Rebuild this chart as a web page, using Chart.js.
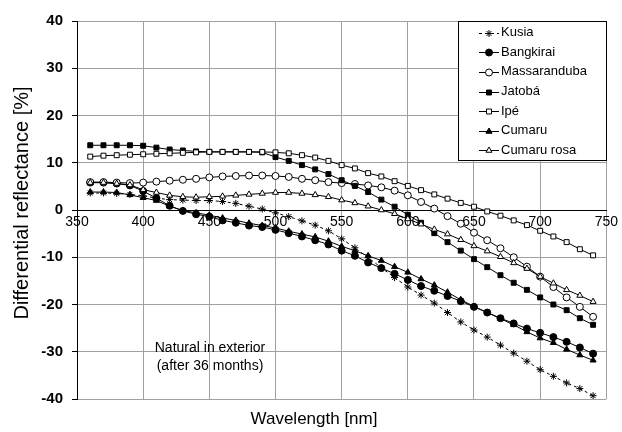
<!DOCTYPE html>
<html>
<head>
<meta charset="utf-8">
<script src="https://cdn.jsdelivr.net/npm/chart.js@4/dist/chart.umd.min.js"></script>
<style>
  body { margin: 0; background: #fff; }
  #wrap { width: 622px; height: 432px; }
</style>
</head>
<body>
<div id="wrap"><canvas id="myChart" width="622" height="432"></canvas></div>
<script>
// Data block
const wavelengths = [360, 370, 380, 390, 400, 410, 420, 430, 440, 450, 460, 470, 480, 490, 500,
  510, 520, 530, 540, 550, 560, 570, 580, 590, 600, 610, 620, 630, 640, 650,
  660, 670, 680, 690, 700, 710, 720, 730, 740];

const kusia = [3.6, 3.6, 3.5, 3.3, 3.0, 2.5, 2.2, 2.1, 2.0, 2.0, 1.8, 1.4, 0.8, 0.2, -0.6,
  -1.4, -2.3, -3.2, -4.4, -6.1, -8.0, -10.1, -12.2, -14.3, -16.3, -18.0, -19.7, -21.7, -23.7, -25.4,
  -26.9, -28.6, -30.3, -32.0, -33.8, -35.2, -36.6, -37.8, -39.3];

const bangkirai = [5.8, 5.8, 5.6, 5.2, 4.0, 2.5, 0.9, -0.2, -0.9, -1.4, -2.2, -2.7, -3.3, -3.6, -4.2,
  -4.9, -5.6, -6.4, -7.3, -8.6, -9.7, -11.1, -12.3, -13.5, -14.8, -16.1, -17.1, -18.2, -19.3, -20.5,
  -21.7, -22.9, -24.0, -25.1, -26.0, -26.9, -27.9, -29.1, -30.4];

const massaranduba = [5.9, 5.9, 5.8, 5.7, 5.8, 6.0, 6.2, 6.4, 6.6, 6.9, 7.1, 7.2, 7.3, 7.3, 7.2,
  7.0, 6.6, 6.3, 5.9, 5.7, 5.5, 5.2, 4.8, 4.1, 3.1, 1.7, 0.3, -1.3, -2.9, -4.8,
  -6.4, -8.1, -10.0, -12.0, -14.1, -16.3, -18.5, -20.5, -22.6];

const jatoba = [13.7, 13.7, 13.7, 13.7, 13.6, 13.2, 12.8, 12.6, 12.4, 12.3, 12.3, 12.3, 12.3, 12.2, 11.2,
  10.4, 9.5, 8.6, 7.6, 6.3, 5.1, 3.8, 2.2, 0.7, -1.0, -2.7, -4.9, -6.8, -8.6, -10.4,
  -12.1, -13.8, -15.4, -16.9, -18.5, -20.0, -21.2, -22.9, -24.3];

const ipe = [11.3, 11.5, 11.6, 11.7, 11.8, 11.9, 12.0, 12.1, 12.2, 12.3, 12.3, 12.3, 12.3, 12.3, 12.2,
  12.0, 11.6, 11.1, 10.4, 9.5, 8.8, 7.8, 7.1, 6.1, 5.1, 4.2, 3.3, 2.4, 1.5, 0.7,
  -0.3, -1.2, -2.2, -3.2, -4.4, -5.6, -6.8, -8.3, -9.6];

const cumaru = [3.8, 3.8, 3.7, 3.2, 2.6, 2.0, 0.8, -0.1, -0.6, -1.1, -1.7, -2.2, -2.8, -3.3, -3.8,
  -4.5, -5.1, -5.7, -6.6, -7.7, -8.6, -9.7, -10.7, -12.0, -13.2, -14.6, -15.9, -17.4, -19.0, -20.4,
  -21.7, -23.0, -24.3, -25.8, -27.1, -28.1, -29.5, -30.7, -31.8];

const cumaruRosa = [5.8, 5.8, 5.6, 5.3, 4.3, 3.7, 3.1, 2.8, 2.7, 2.8, 2.9, 3.1, 3.3, 3.5, 3.7,
  3.7, 3.5, 3.2, 2.8, 2.1, 1.5, 0.8, 0.0, -0.8, -1.9, -3.0, -4.1, -5.1, -6.3, -7.6,
  -8.7, -9.9, -11.2, -12.4, -14.1, -15.5, -16.9, -18.1, -19.4];

const seriesNames = ["Kusia", "Bangkirai", "Massaranduba", "Jatobá", "Ipé", "Cumaru", "Cumaru rosa"];
const seriesValues = [kusia, bangkirai, massaranduba, jatoba, ipe, cumaru, cumaruRosa];
const xTicks = [350, 400, 450, 500, 550, 600, 650, 700, 750];
const yTicks = [-40, -30, -20, -10, 0, 10, 20, 30, 40];

// Style block
const FONT = "Arial, 'Liberation Sans', sans-serif";
const markers = [
  { style: "star", fill: "#000" },
  { style: "circle", fill: "#000" },
  { style: "circle", fill: "#fff" },
  { style: "rect", fill: "#000" },
  { style: "rect", fill: "#fff" },
  { style: "triangle", fill: "#000" },
  { style: "triangle", fill: "#fff" },
];

const datasets = seriesNames.map((name, i) => ({
  label: name,
  data: wavelengths.map((w, j) => ({ x: w, y: seriesValues[i][j] })),
  borderColor: "#000",
  borderWidth: 1,
  borderDash: i === 0 ? [3, 3] : [],
  pointStyle: markers[i].style,
  pointRadius: 3.5,
  pointBackgroundColor: markers[i].fill,
  pointBorderColor: "#000",
  pointBorderWidth: 1,
  tension: 0,
  order: -i, // later series on top, like the original
}));

// Extra text + legend box
const decorations = {
  id: "decorations",
  afterDraw(chart) {
    const ctx = chart.ctx;
    ctx.save();
    ctx.fillStyle = "#000";
    ctx.textAlign = "center";
    ctx.textBaseline = "middle";

    ctx.font = "17px " + FONT;
    ctx.fillText("Wavelength [nm]", 314, 419);

    ctx.save();
    ctx.translate(22, 203);
    ctx.rotate(-Math.PI / 2);
    ctx.font = "20px " + FONT;
    ctx.fillText("Differential reflectance [%]", 0, 0);
    ctx.restore();

    ctx.font = "14px " + FONT;
    ctx.fillText("Natural in exterior", 210, 348);
    ctx.fillText("(after 36 months)", 210, 366);

    // legend
    const bx = 458, by = 21, bw = 149, bh = 140;
    ctx.fillStyle = "#fff";
    ctx.fillRect(bx, by, bw, bh);
    ctx.strokeStyle = "#000";
    ctx.lineWidth = 1;
    ctx.strokeRect(bx + 0.5, by + 0.5, bw - 1, bh - 1);

    ctx.font = "13px " + FONT;
    ctx.textAlign = "left";
    seriesNames.forEach((name, i) => {
      const y = 32.7 + i * 19.6;
      ctx.strokeStyle = "#000";
      ctx.setLineDash(i === 0 ? [3, 3] : []);
      ctx.beginPath();
      ctx.moveTo(479, Math.round(y) + 0.5);
      ctx.lineTo(499, Math.round(y) + 0.5);
      ctx.stroke();
      ctx.setLineDash([]);
      ctx.fillStyle = markers[i].fill;
      Chart.helpers.drawPoint(ctx, {
        pointStyle: markers[i].style, radius: 3.5, rotation: 0, borderWidth: 1
      }, 489, Math.round(y) + 0.5);
      ctx.fillStyle = "#000";
      ctx.fillText(name, 501, y);
    });
    ctx.restore();
  },
};

// Options block
const options = {
  responsive: false,
  animation: false,
  layout: { padding: { left: 0, right: 15, top: 21, bottom: 33 } },
  plugins: { legend: { display: false }, tooltip: { enabled: false } },
  scales: {
    x: {
      type: "linear",
      position: { y: 0 },
      min: 350,
      max: 750,
      afterBuildTicks: (s) => { s.ticks = xTicks.map((v) => ({ value: v })); },
      afterFit: (s) => { s.height = 0; },
      grid: { color: "#a0a0a0", lineWidth: 1, drawTicks: false },
      border: { color: "#000", width: 1 },
      ticks: { color: "#000", padding: 4, font: { family: FONT, size: 14 }, autoSkip: false, maxRotation: 0 },
    },
    y: {
      type: "linear",
      min: -40,
      max: 40,
      afterBuildTicks: (s) => { s.ticks = yTicks.map((v) => ({ value: v })); },
      afterFit: (s) => { s.width = 77; },
      grid: { color: "#a0a0a0", lineWidth: 1, tickLength: 5, tickColor: "#000" },
      border: { color: "#000", width: 1 },
      ticks: { color: "#000", padding: 9, font: { family: FONT, size: 15, weight: "bold" } },
    },
  },
};

// Render block
const myChart = new Chart(document.getElementById("myChart"), {
  type: "line",
  data: { datasets },
  options,
  plugins: [decorations],
});
</script>
</body>
</html>
